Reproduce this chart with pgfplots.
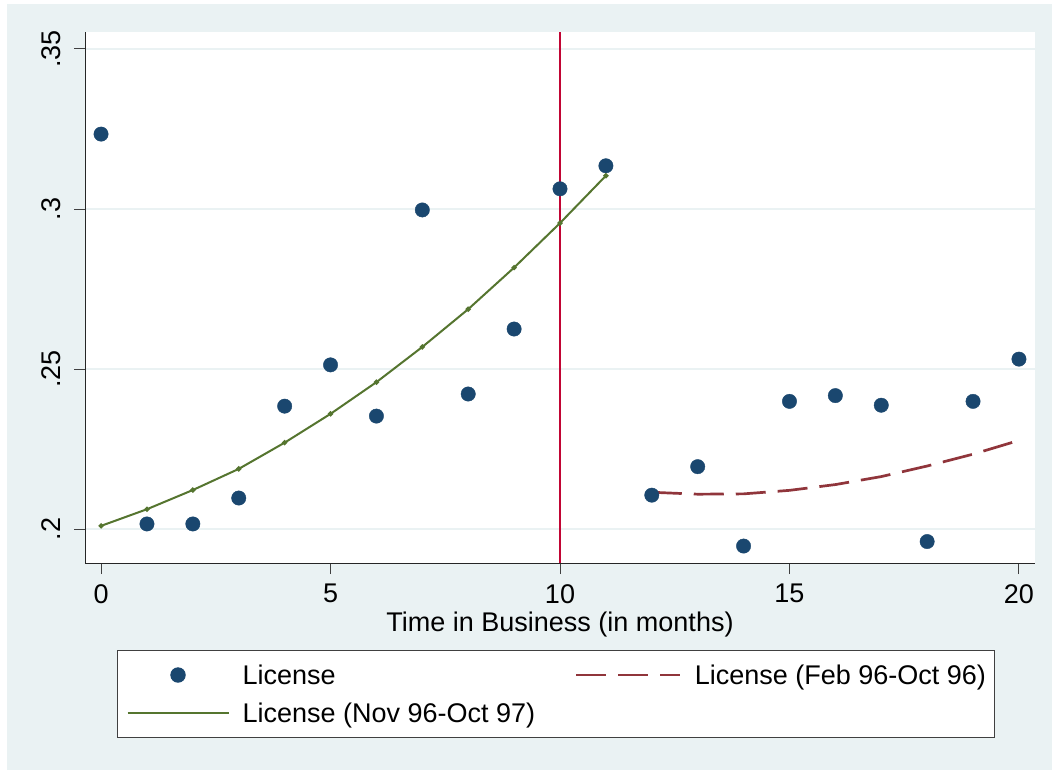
\documentclass[border=0pt]{standalone}
\usepackage{fontspec}
\setmainfont{Liberation Sans}
\usepackage{pgfplots}
\pgfplotsset{compat=1.18}
\definecolor{stbg}{HTML}{EAF2F3}
\definecolor{stnavy}{HTML}{1A476F}
\definecolor{stmaroon}{HTML}{90353B}
\definecolor{stgreen}{HTML}{55752F}
\definecolor{stcran}{HTML}{C10534}
\definecolor{stgrid}{HTML}{EAF2F3}
\pgfplotsset{
  legdot/.style={legend image code/.code={\path (0pt,0pt) (101pt,0pt);
    \draw[mark repeat=2, mark phase=2, ##1] plot coordinates {(0pt,0pt) (50.5pt,0pt) (101pt,0pt)};}},
  legdash/.style={legend image code/.code={\draw[##1] (0pt,0pt) -- (104pt,0pt);}},
  legline/.style={legend image code/.code={\draw[##1, mark=none] (0pt,0pt) -- (101pt,0pt);}},
}
\begin{document}
\begin{tikzpicture}[font=\fontsize{27}{32}\selectfont]
\path[use as bounding box] (0pt,0pt) rectangle (1052pt,-770pt);
\fill[stbg] (7pt,-4pt) rectangle (1052pt,-770pt);
\begin{axis}[
  at={(85pt,-32pt)}, anchor=north west,
  scale only axis, width=950pt, height=531pt,
  xmin=-0.35, xmax=20.35, ymin=0.1894, ymax=0.3553,
  axis x line*=bottom, axis y line*=left,
  axis line style={-, line width=1pt, black!85},
  axis background/.style={fill=white},
  xtick={0,5,10,15,20}, xticklabels={0,5,10,15,20},
  ytick={0.2,0.25,0.3,0.35}, yticklabels={.2,.25,.3,.35},
  tick align=outside, major tick length=11pt,
  tick style={line width=1pt, black!75},
  ymajorgrids, grid style={stgrid, line width=2pt},
  xticklabel style={font=\fontsize{27}{32}\selectfont, inner sep=0pt, yshift=-10pt},
  yticklabel style={font=\fontsize{27}{32}\selectfont, xshift=-10pt, rotate=90, anchor=south},
  xlabel={Time in Business (in months)},
  xlabel style={font=\fontsize{27}{32}\selectfont, inner sep=0pt, yshift=-8pt},
  legend columns=2,
  legend style={at={(axis description cs:0.0337,-0.1638)}, anchor=north west,
    draw=black!75, line width=1pt, fill=white, inner xsep=9pt, inner ysep=14pt,
    font=\fontsize{27}{32}\selectfont,
    nodes={inner sep=0pt},
    row sep=17pt,
    /tikz/every odd column/.append style={column sep=13pt},
    /tikz/every even column/.append style={column sep=40pt}},
  legend cell align=left,
]
\addplot[stcran, line width=2.5pt, forget plot] coordinates {(10,0.1894) (10,0.3553)};
\addplot[only marks, mark=*, mark size=7.2pt, mark options={fill=stnavy, draw=stnavy}, legdot]
coordinates {
(0,0.3234) (1,0.2016) (2,0.2016) (3,0.2097) (4,0.2384) (5,0.2513) (6,0.2353)
(7,0.2997) (8,0.2422) (9,0.2625) (10,0.3063) (11,0.3135) (12,0.2106) (13,0.2195)
(14,0.1947) (15,0.2399) (16,0.2417) (17,0.2387) (18,0.1961) (19,0.2399) (20,0.2531)
};
\addlegendentry{License}
\addplot[stmaroon, line width=2.7pt, dash pattern=on 30pt off 12pt, legdash]
coordinates {
(12,0.2115) (13,0.2109) (14,0.2110) (15,0.2121) (16,0.2139) (17,0.2164) (18,0.2197) (19,0.2234) (20,0.2277)
};
\addlegendentry{License (Feb 96-Oct 96)}
\addplot[stgreen, line width=2pt, mark=*, mark size=1.5pt, mark options={solid}, legline]
coordinates {
(0,0.2010) (1,0.2062) (2,0.2122) (3,0.2188) (4,0.2270) (5,0.2360) (6,0.2459)
(7,0.2569) (8,0.2687) (9,0.2817) (10,0.2956) (11,0.3104)
};
\addlegendentry{License (Nov 96-Oct 97)}
\end{axis}
\end{tikzpicture}
\end{document}
